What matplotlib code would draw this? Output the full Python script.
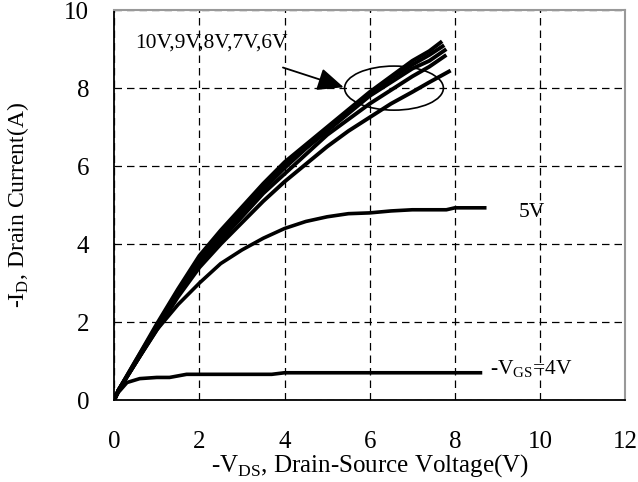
import numpy as np
import matplotlib.pyplot as plt
from matplotlib.patches import Ellipse

plt.rcParams['font.family'] = 'Liberation Serif'
plt.rcParams['mathtext.fontset'] = 'custom'
plt.rcParams['mathtext.rm'] = 'Liberation Serif'

# -VDS (V) and -ID (A)
v_hi = [0, 0.1, 0.5, 1.0, 1.5, 2.0, 2.5, 3.0, 3.5, 4.0, 4.5, 5.0, 5.5, 6.0, 6.5, 7.0, 7.4]
i_10v = [0, 0.25, 1.0, 1.95, 2.85, 3.7, 4.35, 4.95, 5.55, 6.1, 6.55, 7.0, 7.45, 7.9, 8.3, 8.7, 8.95]
i_9v = [0, 0.25, 1.0, 1.9, 2.8, 3.6, 4.25, 4.85, 5.45, 6.0, 6.5, 6.95, 7.4, 7.85, 8.25, 8.6, 8.85]
i_8v = [0, 0.25, 0.95, 1.85, 2.75, 3.55, 4.2, 4.8, 5.4, 5.95, 6.45, 6.9, 7.35, 7.8, 8.15, 8.5, 8.7]
i_7v = [0, 0.25, 0.95, 1.85, 2.7, 3.5, 4.1, 4.7, 5.3, 5.8, 6.3, 6.8, 7.2, 7.6, 7.95, 8.3, 8.55]
i_6v = [0, 0.25, 0.95, 1.8, 2.65, 3.4, 4.0, 4.55, 5.1, 5.6, 6.05, 6.5, 6.9, 7.25, 7.6, 7.9, 8.15]
v_end = [7.7, 7.75, 7.8, 7.8, 7.9]
i_end = [9.2, 9.1, 9.0, 8.85, 8.45]

v_5v = [0, 0.1, 0.5, 1.0, 1.5, 2.0, 2.5, 3.0, 3.5, 4.0, 4.5, 5.0, 5.5, 6.0, 6.5, 7.0, 7.8, 8.0, 8.7]
i_5v = [0, 0.25, 0.95, 1.8, 2.45, 3.0, 3.5, 3.85, 4.15, 4.4, 4.58, 4.7, 4.78, 4.8, 4.85, 4.88, 4.88, 4.93, 4.93]

v_4v = [0, 0.1, 0.3, 0.6, 1.0, 1.3, 1.7, 2.0, 3.7, 4.0, 8.6]
i_4v = [0, 0.2, 0.45, 0.55, 0.58, 0.58, 0.66, 0.66, 0.66, 0.7, 0.7]

fig = plt.figure(figsize=(6.38, 4.82), dpi=100)
ax = fig.add_axes([0.179, 0.170, 0.801, 0.809])

hi_curves = [i_10v, i_9v, i_8v, i_7v, i_6v]
for k, ii in enumerate(hi_curves):
    ax.plot(v_hi + [v_end[k]], ii + [i_end[k]], color='black', lw=2.8, solid_capstyle='butt')
ax.plot(v_5v, i_5v, color='black', lw=2.6)
ax.plot(v_4v, i_4v, color='black', lw=2.6)

ax.set_xlim(0, 12)
ax.set_ylim(0, 10)
ax.set_xticks(np.arange(0, 13, 2))
ax.set_yticks(np.arange(0, 11, 2))
ax.grid(True, color='black', linestyle=(0, (6, 4)), lw=0.9)
ax.tick_params(length=0, labelsize=18)
ax.tick_params(axis='x', pad=22)
ax.tick_params(axis='y', pad=18)
for s in ['top', 'right']:
    ax.spines[s].set_color('#999999')
    ax.spines[s].set_linewidth(1.5)
for s in ['left', 'bottom']:
    ax.spines[s].set_linewidth(1.3)

ax.set_xlabel(r'-V$_\mathregular{DS}$, Drain-Source Voltage(V)', fontsize=18, labelpad=0)
ax.set_ylabel(r'-I$_\mathregular{D}$, Drain Current(A)', fontsize=17, labelpad=24)

ax.text(0.5, 9.15, '10V,9V,8V,7V,6V', fontsize=15.5, va='center', ha='left')
ax.annotate('', xy=(5.45, 8.0), xytext=(3.9, 8.55),
            arrowprops=dict(arrowstyle='-|>,head_length=1.6,head_width=0.7', color='black', lw=1.3))
ax.add_patch(Ellipse((6.57, 8.0), 2.32, 1.13, fill=False, edgecolor='black', lw=1.2))
ax.text(9.5, 4.82, '5V', fontsize=15.5, va='center', ha='left')
ax.text(8.83, 0.8, r'-V$_\mathregular{GS}$=4V', fontsize=15.5, va='center', ha='left')

fig.savefig('out.png', dpi=100)
